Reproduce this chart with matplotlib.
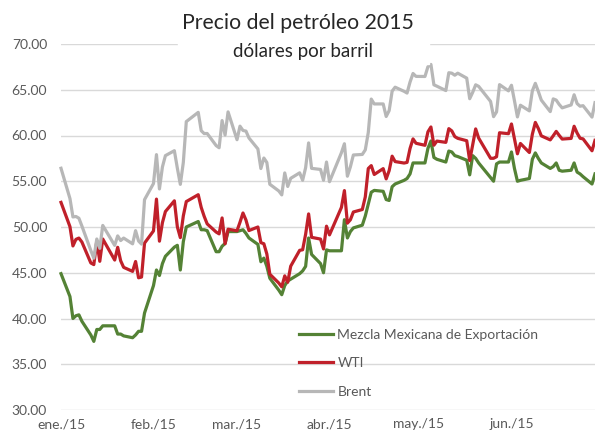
import pandas as pd
import matplotlib
matplotlib.use("Agg")
import matplotlib.pyplot as plt
from matplotlib.patches import Rectangle

plt.rcParams['font.family'] = ['Lato', 'DejaVu Sans']

# trading days (US holidays left out)
holidays = ['2015-01-19', '2015-02-16', '2015-04-03', '2015-05-25']
dates = pd.bdate_range('2015-01-02', '2015-06-30')
dates = dates[~dates.isin(pd.to_datetime(holidays))]

mezcla = [
    # ene
    44.9, 42.4, 40.0, 40.3, 40.4, 39.7, 38.2, 37.5, 38.8, 38.8, 39.2,
    39.2, 38.3, 38.3, 38.1, 37.9, 38.2, 38.6, 38.6, 40.6,
    # feb
    43.6, 45.3, 44.7, 46.0, 46.8, 47.8, 48.0, 45.3, 48.4, 50.0,
    50.6, 49.7, 49.7, 49.6, 47.3, 47.3, 47.9, 48.2, 49.5,
    # mar
    49.5, 49.6, 49.7, 49.3, 48.8, 48.1, 46.2, 46.6, 45.7, 44.4,
    43.1, 42.6, 43.6, 44.1, 44.3, 44.9, 45.2, 45.7, 48.8, 47.0, 46.0, 45.0,
    # abr
    47.5, 47.4, 47.4, 50.8, 48.8, 49.5, 49.9, 50.2, 51.2, 52.5, 53.8, 54.0,
    53.9, 53.0, 52.9, 54.4, 54.7, 55.1, 55.3, 55.8, 57.0,
    # may
    57.0, 57.0, 58.6, 59.4, 57.6, 57.4, 57.1, 58.3, 58.2, 57.8, 57.7,
    57.3, 55.7, 57.8, 57.5, 57.0, 55.4, 55.0, 56.9, 57.1,
    # jun
    57.1, 58.2, 56.4, 55.0, 55.1, 55.3, 57.4, 58.1, 57.5, 57.0,
    56.4, 56.6, 57.0, 56.2, 56.1, 56.2, 57.0, 56.0, 55.8, 55.5, 54.7, 55.8,
]

wti = [
    52.69, 50.04, 47.93, 48.65, 48.79, 48.36, 46.07, 45.89, 48.48, 46.25, 48.69,
    46.39, 47.78, 46.31, 45.59, 45.15, 46.23, 44.45, 44.53, 48.24,
    49.57, 53.05, 48.45, 50.48, 51.69, 52.86, 50.02, 48.84, 51.21, 52.78,
    53.53, 52.14, 51.16, 50.34, 49.45, 49.25, 50.99, 48.17, 49.76,
    49.59, 50.52, 51.53, 50.76, 49.61, 50.00, 48.29, 48.17, 47.05, 44.84,
    43.88, 43.46, 44.66, 43.96, 45.72, 47.45, 47.51, 49.21, 51.43, 48.87, 48.68, 47.60,
    50.09, 49.14, 52.14, 53.98, 50.42, 50.79, 51.64, 51.91, 53.29, 56.39, 56.71, 55.74,
    56.38, 55.26, 56.16, 57.74, 57.15, 56.99, 57.06, 58.58, 59.63,
    59.15, 58.93, 60.40, 60.93, 58.94, 59.39, 59.25, 60.75, 60.50, 59.88, 59.69,
    59.43, 57.26, 58.98, 60.72, 59.72, 57.51, 57.51, 57.68, 60.30,
    60.20, 61.26, 59.64, 58.00, 59.13, 58.14, 60.14, 61.43, 60.77, 59.96,
    59.52, 59.97, 60.45, 60.01, 59.61, 59.68, 61.01, 60.27, 59.70, 59.63, 58.33, 59.47,
]

brent = [
    56.42, 53.11, 51.10, 51.15, 50.96, 50.11, 47.43, 46.59, 48.69, 47.67, 50.17,
    47.99, 49.03, 48.52, 48.79, 48.16, 49.60, 48.47, 48.13, 52.99,
    54.75, 57.91, 54.16, 56.57, 57.80, 58.34, 56.43, 54.66, 57.05, 61.52,
    62.53, 60.53, 60.21, 60.22, 58.90, 58.66, 61.63, 60.05, 62.58,
    59.54, 61.02, 60.55, 60.48, 59.73, 58.53, 56.39, 57.54, 57.05, 54.67,
    53.94, 53.51, 55.91, 54.43, 55.32, 55.92, 55.11, 56.48, 59.19, 56.41, 56.29, 55.11,
    57.10, 54.95, 58.12, 59.10, 55.55, 56.57, 57.87, 57.93, 58.43, 60.32, 63.98, 63.45,
    63.45, 62.08, 62.72, 64.85, 65.28, 64.83, 64.64, 65.84, 66.78,
    66.46, 66.45, 67.52, 67.77, 65.54, 65.39, 64.91, 66.86, 66.81, 66.59, 66.81,
    66.27, 64.02, 64.72, 65.54, 65.37, 63.72, 62.06, 62.58, 65.56,
    64.88, 65.49, 63.80, 62.03, 63.31, 62.69, 64.88, 65.70, 64.82, 63.87,
    62.61, 64.00, 63.87, 63.39, 63.02, 63.34, 64.45, 63.49, 63.20, 63.26, 62.01, 63.59,
]

month_ticks = ['2015-01-02', '2015-02-02', '2015-03-02', '2015-04-02', '2015-05-02', '2015-06-02']
month_labels = ['ene./15', 'feb./15', 'mar./15', 'abr./15', 'may./15', 'jun./15']

gray_txt = '#595959'

fig = plt.figure(figsize=(5.95, 4.37), dpi=100)
ax = fig.add_axes([61 / 595, 1 - 410 / 437, 534 / 595, 366 / 437])

ax.plot(dates, mezcla, color='#548235', lw=2.3, label='Mezcla Mexicana de Exportación', clip_on=False, zorder=3)
ax.plot(dates, wti, color='#C0202A', lw=2.3, label='WTI', clip_on=False, zorder=4)
ax.plot(dates, brent, color='#B7B7B7', lw=2.3, label='Brent', clip_on=False, zorder=5)

ax.set_xlim(pd.Timestamp('2015-01-02'), pd.Timestamp('2015-06-30'))
ax.set_ylim(30, 70)
ax.set_yticks(range(30, 71, 5))
ax.set_yticklabels([f'{v:.2f}' for v in range(30, 71, 5)])
ax.set_xticks(pd.to_datetime(month_ticks))
ax.set_xticklabels(month_labels)
ax.tick_params(length=0, labelsize=10, labelcolor=gray_txt)
ax.tick_params(axis='y', pad=10)
ax.tick_params(axis='x', pad=6)
ax.grid(axis='y', color='#D9D9D9', lw=1)
ax.set_axisbelow(True)
for s in ax.spines.values():
    s.set_visible(False)

leg = ax.legend(loc='upper left', bbox_to_anchor=(293 / 595, 1 - 323 / 437),
                bbox_transform=fig.transFigure, frameon=False, fontsize=10,
                handlelength=2.5, handletextpad=0.3, labelspacing=1.2, borderaxespad=0)
for t in leg.get_texts():
    t.set_color(gray_txt)

# white box behind the title hides part of the top gridline
fig.patches.append(Rectangle((178 / 595, 1 - 64 / 437), 251 / 595, 60 / 437,
                             transform=fig.transFigure, color='white', zorder=1))
fig.text(298 / 595, 1 - 23 / 437, 'Precio del petróleo 2015', ha='center', va='center',
         fontsize=15.3, color='#262626', zorder=3)
fig.text(303 / 595, 1 - 51 / 437, 'dólares por barril', ha='center', va='center',
         fontsize=13.5, color='#262626', zorder=3)

fig.savefig('out.png', dpi=100)
